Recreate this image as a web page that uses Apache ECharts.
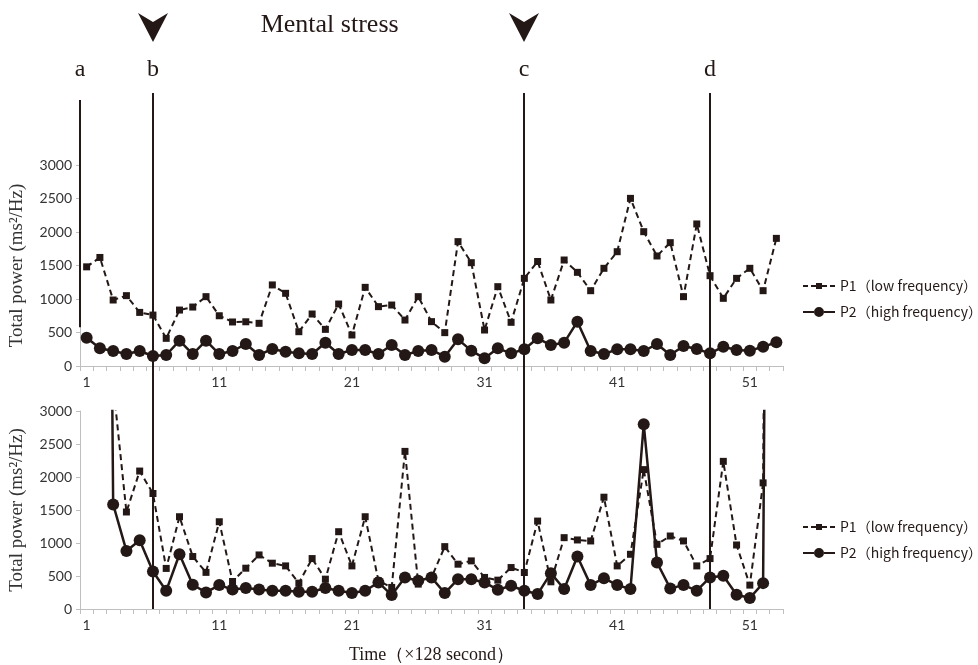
<!DOCTYPE html>
<html><head><meta charset="utf-8">
<script src="https://cdn.jsdelivr.net/npm/echarts@6/dist/echarts.min.js"></script>
<style>html,body{margin:0;padding:0;background:#fff}#c{width:978px;height:665px}</style>
</head><body><div id="c"></div>
<script>
const categories = ['1','2','3','4','5','6','7','8','9','10','11','12','13','14','15','16','17','18','19','20','21','22','23','24','25','26','27','28','29','30','31','32','33','34','35','36','37','38','39','40','41','42','43','44','45','46','47','48','49','50','51','52','53'];
const yTicks = [0, 500, 1000, 1500, 2000, 2500, 3000];
const topP1 = [1480,1620,985,1050,800,760,413,835,880,1035,750,657,660,637,1210,1085,512,776,547,925,463,1174,886,910,686,1035,662,498,1856,1542,537,1184,652,1308,1560,985,1582,1398,1124,1458,1706,2502,2005,1642,1841,1035,2120,1348,1010,1308,1458,1124,1905];
const topP2 = [423,264,224,179,224,149,164,378,179,378,179,224,328,164,254,214,189,179,348,179,239,239,179,313,164,224,239,139,398,229,114,264,189,249,413,313,348,662,224,179,249,249,224,328,164,298,254,189,288,239,229,288,353];
const botP1 = [null,null,3400,1470,2090,1750,615,1398,795,555,1322,417,618,819,694,653,392,764,452,1171,653,1398,427,327,2388,377,478,945,679,729,478,437,628,553,1332,412,1081,1046,1031,1694,653,829,2112,980,1106,1031,653,764,2237,970,362,1911,30000];
const botP2 = [null,25000,1584,880,1041,568,277,829,367,251,362,296,317,296,277,277,261,261,317,277,241,277,402,211,478,427,478,241,452,452,402,291,352,277,226,543,302,794,362,467,362,302,2800,704,312,362,277,478,503,216,166,392,30000];
const seriesNames = ['P1（low frequency）', 'P2（high frequency）'];
const periodCats = ['6', '34', '48'];      // b, c, d
const periodLabels = ['b', 'c', 'd'];
const stressCats = ['6', '34'];
const titleText = 'Mental stress';
const yName = 'Total power (ms²/Hz)';
const xName = 'Time（×128 second）';

const INK = '#231815';
const GREY = '#bfbfbf';
const serif = '"Liberation Serif","DejaVu Serif",serif';
const sans = 'Lato,"Noto Sans",sans-serif';

const chart = echarts.init(document.getElementById('c'));

function xAxisCfg(gi, withName) {
  return {
    type: 'category', gridIndex: gi, data: categories, boundaryGap: true,
    axisLine: { lineStyle: { color: GREY, width: 1 } },
    axisTick: { show: true, interval: 0, length: 5, lineStyle: { color: GREY } },
    axisLabel: { interval: 9, margin: 9, color: '#333', fontFamily: sans, fontSize: 14 },
    name: withName ? xName : '', nameLocation: 'middle', nameGap: 37,
    nameTextStyle: { fontFamily: serif, fontSize: 18, color: INK }
  };
}
function yAxisCfg(gi) {
  return {
    type: 'value', gridIndex: gi, min: yTicks[0], max: yTicks[yTicks.length - 1], interval: 500,
    axisLine: { show: true, lineStyle: { color: GREY, width: 1 } },
    axisTick: { show: true, length: 4, lineStyle: { color: GREY } },
    splitLine: { show: false },
    axisLabel: { margin: 8, color: '#333', fontFamily: sans, fontSize: 14, formatter: v => String(v) },
    name: yName, nameLocation: 'middle', nameGap: 53,
    nameTextStyle: { fontFamily: serif, fontSize: 19, color: '#333' }
  };
}
function p1(gi, data) {
  return {
    name: seriesNames[0], type: 'line', xAxisIndex: gi, yAxisIndex: gi, data: data,
    clip: true, symbol: 'rect', symbolSize: 7, showAllSymbol: true, color: INK,
    lineStyle: { color: INK, width: 2, type: [6, 4] }, itemStyle: { color: INK },
    connectNulls: false, animation: false, z: 3
  };
}
function p2(gi, data) {
  return {
    name: seriesNames[1], type: 'line', xAxisIndex: gi, yAxisIndex: gi, data: data,
    clip: true, symbol: 'circle', symbolSize: 12, showAllSymbol: true, color: INK,
    lineStyle: { color: INK, width: 2.5 }, itemStyle: { color: INK },
    connectNulls: false, animation: false, z: 4
  };
}
const icons = [
  'path://M0,4h5v2h-5z M8,4h5v2h-5z M13,2h6v6h-6z M19,4h5v2h-5z M27,4h5v2h-5z',
  'path://M0,4h11.2v2h-11.2z M20.8,4h11.2v2h-11.2z M11,5a5,5 0 1,0 10,0a5,5 0 1,0 -10,0z'
];
function legendCfg(top) {
  return {
    orient: 'vertical', left: 798, top: top, itemGap: 12, itemWidth: 32, itemHeight: 10,
    data: seriesNames.map((n, i) => ({ name: n, icon: icons[i] })),
    textStyle: { fontFamily: '"Noto Sans CJK SC","Noto Sans",sans-serif', fontSize: 14, color: INK },
    selectedMode: false
  };
}

chart.setOption({
  backgroundColor: '#fff',
  animation: false,
  grid: [
    { left: 80, width: 703, top: 165, height: 201 },
    { left: 80, width: 703, top: 411, height: 199 }
  ],
  xAxis: [xAxisCfg(0, false), xAxisCfg(1, true)],
  yAxis: [yAxisCfg(0), yAxisCfg(1)],
  legend: [legendCfg(274), legendCfg(515)],
  series: [p1(0, topP1), p2(0, topP2), p1(1, botP1), p2(1, botP2)]
});

function drawAnnotations() {
  const xOf = c => chart.convertToPixel({ xAxisIndex: 0 }, c);
  const band = xOf(categories[1]) - xOf(categories[0]);
  const yTop = chart.convertToPixel({ yAxisIndex: 0 }, yTicks[yTicks.length - 1]);
  const yBot = chart.convertToPixel({ yAxisIndex: 1 }, 0);
  const lineTop = yTop - 72;
  const labelY = yTop - 95;
  const els = [];
  const xa = Math.round(xOf(categories[0]) - band / 2);
  els.push({ type: 'line', shape: { x1: xa, y1: lineTop + 7, x2: xa, y2: chart.convertToPixel({ yAxisIndex: 0 }, 580) }, style: { stroke: INK, lineWidth: 2 }, z: 10 });
  els.push({ type: 'text', x: xa, y: labelY, style: { text: 'a', font: '24px ' + serif, fill: INK, align: 'center', verticalAlign: 'middle' }, z: 10 });
  periodCats.forEach((c, i) => {
    const x = Math.round(xOf(c));
    els.push({ type: 'line', shape: { x1: x, y1: lineTop, x2: x, y2: yBot }, style: { stroke: INK, lineWidth: 2 }, z: 10 });
    els.push({ type: 'text', x: x, y: labelY, style: { text: periodLabels[i], font: '24px ' + serif, fill: INK, align: 'center', verticalAlign: 'middle' }, z: 10 });
  });
  stressCats.forEach(c => {
    const x = Math.round(xOf(c));
    els.push({ type: 'polygon', shape: { points: [[x - 15, 13], [x, 22], [x + 15, 13], [x, 42]] }, style: { fill: INK }, z: 10 });
  });
  const xb = xOf(stressCats[0]), xc = xOf(stressCats[1]);
  els.push({ type: 'text', x: (xb + xc) / 2 - 9, y: 25, style: { text: titleText, font: '26px ' + serif, fill: INK, align: 'center', verticalAlign: 'middle' }, z: 10 });
  chart.setOption({ graphic: { elements: els } });
}
drawAnnotations();
</script>
</body></html>
